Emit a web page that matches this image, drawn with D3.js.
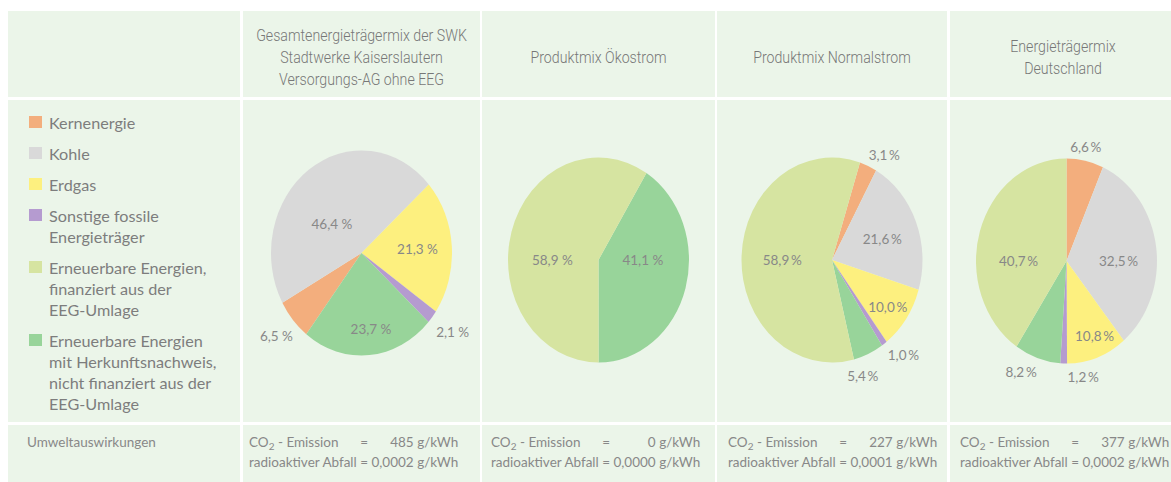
<!DOCTYPE html>
<html>
<head>
<meta charset="utf-8">
<script src="https://cdn.jsdelivr.net/npm/d3@7"></script>
<style>
  body { margin: 0; background: #fff; }
  svg { display: block; }
</style>
</head>
<body>
<div id="d3-container"></div>
<script>
// energy carriers, legend order
const categories = ["Kernenergie", "Kohle", "Erdgas", "Sonstige fossile Energieträger",
  "Erneuerbare Energien, finanziert aus der EEG-Umlage",
  "Erneuerbare Energien mit Herkunftsnachweis, nicht finanziert aus der EEG-Umlage"];
const legendLines = [["Kernenergie"], ["Kohle"], ["Erdgas"], ["Sonstige fossile", "Energieträger"],
  ["Erneuerbare Energien,", "finanziert aus der", "EEG-Umlage"],
  ["Erneuerbare Energien", "mit Herkunftsnachweis,", "nicht finanziert aus der", "EEG-Umlage"]];
const mixTitles = [["Gesamtenergieträgermix der SWK", "Stadtwerke Kaiserslautern", "Versorgungs-AG ohne EEG"],
  ["Produktmix Ökostrom"], ["Produktmix Normalstrom"], ["Energieträgermix", "Deutschland"]];

// shares in %, legend order
const swkMix = [6.5, 46.4, 21.3, 2.1, 0, 23.7];
const oekoMix = [0, 0, 0, 0, 58.9, 41.1];
const normalMix = [3.1, 21.6, 10.0, 1.0, 58.9, 5.4];
const deMix = [6.6, 32.5, 10.8, 1.2, 40.7, 8.2];
const mixes = [swkMix, oekoMix, normalMix, deMix];

const co2 = [485, 0, 227, 377];
const waste = [0.0002, 0.0000, 0.0001, 0.0002];

const colors = ["#f3ae7d", "#d9d9d9", "#fdf07f", "#b59bd0", "#d6e4a1", "#98d49a"];
const drawOrder = [0, 1, 2, 3, 5, 4];

// layout
const width = 1171, height = 482;
const cols = [[8, 240], [243, 480], [482, 715], [717, 947], [950, 1183]];
const rows = [[11, 97], [100, 422], [425, 482]];
const pieCenterY = [253, 260, 260, 261];
const rx = 90.5, ry = 102.5, R = 100;
const startDeg = [217.6, 32, 18, 0];
// label placement per drawn slice: [angle shift in deg, radius factor]
const labelPlace = [
  [[0, 1.24], [-14, 0.43], [0, 0.62], [-1, 1.27], [-3, 0.75]],
  [[-16, 0.49], [-16, 0.51]],
  [[6, 1.17], [2, 0.59], [2, 0.77], [-5, 1.22], [7, 1.18], [-2, 0.55]],
  [[-1, 1.13], [8, 0.575], [-3, 0.8], [-11, 1.15], [6, 1.2], [-17, 0.53]]
];
const pctSep = [" ", " ", "\u2009", "\u2009"];

const grey = "#888";
const bodyFont = "Lato, 'Open Sans', sans-serif";
const headFont = "Roboto, 'DejaVu Sans Condensed', sans-serif";

const svg = d3.select("#d3-container")
  .append("svg")
  .attr("width", width)
  .attr("height", height)
  .attr("viewBox", [0, 0, width, height]);

// table cells
rows.forEach(r => {
  svg.append("g").selectAll("rect")
    .data(cols)
    .join("rect")
    .attr("x", c => c[0])
    .attr("y", r[0])
    .attr("width", c => c[1] - c[0])
    .attr("height", r[1] - r[0])
    .attr("fill", "#ebf5e9");
});

// headers (condensed look)
const headerMid = 57, headLH = 22;
mixTitles.forEach((lines, i) => {
  const cx = i === 3 ? 1063 : (cols[i + 1][0] + cols[i + 1][1]) / 2;
  lines.forEach((l, j) => {
    svg.append("text")
      .attr("transform", `translate(${cx},${headerMid + (j - (lines.length - 1) / 2) * headLH}) scale(0.86,1)`)
      .attr("font-family", headFont)
      .attr("font-weight", 300)
      .attr("font-size", 16.5)
      .attr("fill", "#777")
      .attr("text-anchor", "middle")
      .attr("dy", "0.35em")
      .text(l);
  });
});

// legend
const legend = svg.append("g");
let ly = 123;
legendLines.forEach((lines, i) => {
  legend.append("rect")
    .attr("x", 29).attr("y", ly - 7)
    .attr("width", 13).attr("height", 12)
    .attr("fill", colors[i]);
  const t = legend.append("text")
    .attr("font-family", bodyFont)
    .attr("font-size", 16.2)
    .attr("fill", "#7d7d7d");
  lines.forEach((l, j) => {
    t.append("tspan").attr("x", 49).attr("y", ly + j * 21).attr("dy", "0.35em").text(l);
  });
  ly += (lines.length - 1) * 21 + 31;
});

// pies
const fmtNum = v => d3.format(".1f")(v).replace(".", ",");
const arc = d3.arc().innerRadius(0).outerRadius(R);

mixes.forEach((mix, i) => {
  const cx = (cols[i + 1][0] + cols[i + 1][1]) / 2, cy = pieCenterY[i];
  const slices = drawOrder.map(k => ({ key: k, value: mix[k] })).filter(d => d.value > 0);
  const a0 = startDeg[i] * Math.PI / 180;
  const pie = d3.pie().sort(null).value(d => d.value).startAngle(a0).endAngle(a0 + 2 * Math.PI);
  const arcs = pie(slices);

  svg.append("g")
    .attr("transform", `translate(${cx},${cy}) scale(${rx / R},${ry / R})`)
    .selectAll("path")
    .data(arcs)
    .join("path")
    .attr("d", arc)
    .attr("fill", d => colors[d.data.key]);

  svg.append("g")
    .attr("font-family", bodyFont)
    .attr("font-size", 13.5)
    .attr("fill", grey)
    .attr("text-anchor", "middle")
    .selectAll("text")
    .data(arcs)
    .join("text")
    .attr("transform", (d, j) => {
      const [da, k] = labelPlace[i][j];
      const a = (d.startAngle + d.endAngle) / 2 + da * Math.PI / 180;
      const p = d3.arc().innerRadius(k * R).outerRadius(k * R).centroid({ startAngle: a, endAngle: a });
      return `translate(${cx + p[0] * rx / R},${cy + p[1] * ry / R})`;
    })
    .attr("dy", "0.35em")
    .text(d => fmtNum(d.data.value) + pctSep[i] + "%");
});

// footer
const footY1 = 442, footY2 = 462;
svg.append("text")
  .attr("x", 27).attr("y", footY1).attr("dy", "0.35em")
  .attr("font-family", bodyFont).attr("font-size", 13.5).attr("fill", grey)
  .text("Umweltauswirkungen");

const fmtWaste = v => d3.format(".4f")(v).replace(".", ",");
const footStart = [249, 491, 728, 960];
co2.forEach((c, i) => {
  const x0 = footStart[i];
  const g = svg.append("g")
    .attr("font-family", bodyFont).attr("font-size", 13.5).attr("fill", grey);
  const line2 = g.append("text")
    .attr("x", x0).attr("y", footY2).attr("dy", "0.35em")
    .text("radioaktiver Abfall = " + fmtWaste(waste[i]) + " g/kWh");
  const node = line2.node();
  const full = node.getComputedTextLength();
  const eqIdx = node.textContent.indexOf("=");
  const eqX = x0 + node.getSubStringLength(0, eqIdx) + node.getSubStringLength(eqIdx, 1) / 2;

  const l1 = g.append("text").attr("x", x0).attr("y", footY1).attr("dy", "0.35em");
  l1.append("tspan").text("CO");
  l1.append("tspan").attr("font-size", 10).attr("dy", 3).text("2");
  l1.append("tspan").attr("dy", -3).text(" - Emission");
  g.append("text")
    .attr("x", eqX).attr("y", footY1).attr("dy", "0.35em")
    .attr("text-anchor", "middle").text("=");
  g.append("text")
    .attr("x", x0 + full).attr("y", footY1).attr("dy", "0.35em")
    .attr("text-anchor", "end").text(c + " g/kWh");
});
</script>
</body>
</html>
